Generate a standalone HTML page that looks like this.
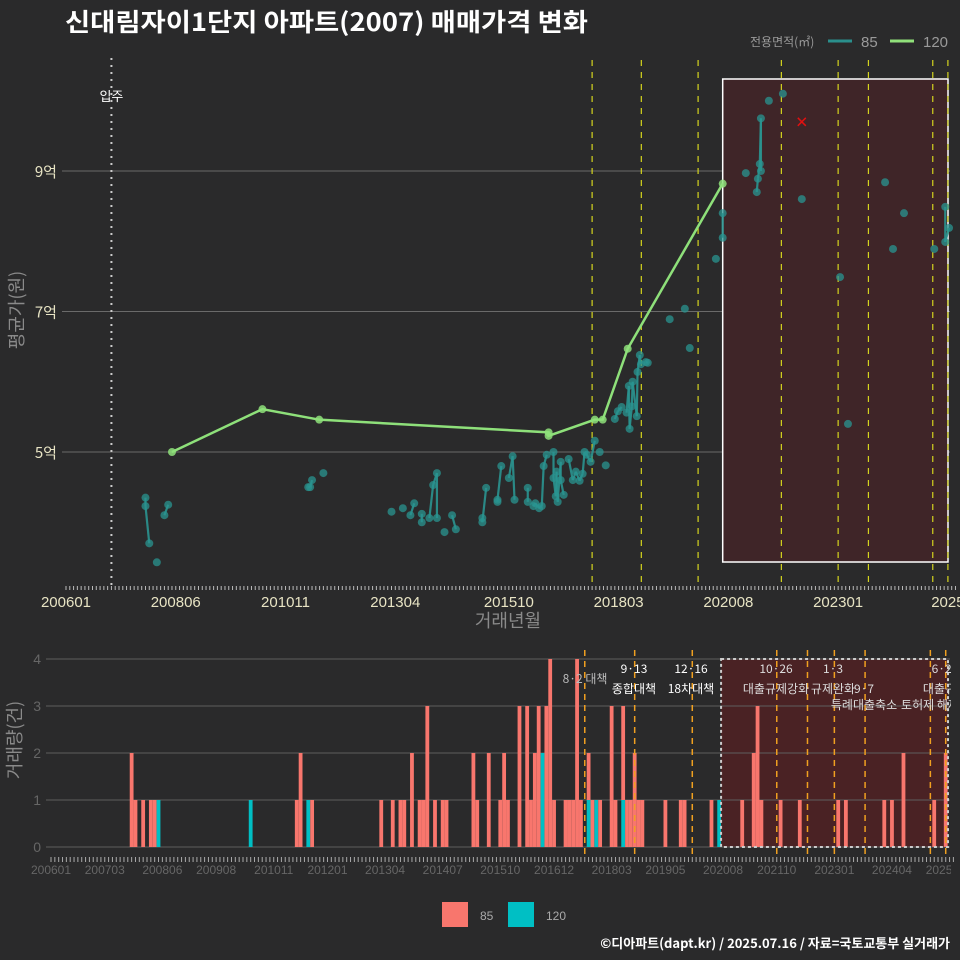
<!DOCTYPE html>
<html><head><meta charset="utf-8">
<style>
html,body{margin:0;padding:0;background:#2a2a2b;}
svg{display:block;font-family:"Liberation Sans","Noto Sans CJK KR",sans-serif;}
</style></head>
<body>
<svg id="chart" width="960" height="960" viewBox="0 0 960 960" xmlns="http://www.w3.org/2000/svg">
<rect x="0" y="0" width="960" height="960" fill="#2a2a2b"/>
<text x="65" y="31" fill="#ffffff" font-size="25" font-weight="bold" textLength="523" lengthAdjust="spacingAndGlyphs" font-family="'Noto Sans CJK KR',sans-serif">신대림자이1단지 아파트(2007) 매매가격 변화</text>
<g>
<text x="750" y="46" fill="#9a9a9a" font-size="12" font-family="'Noto Sans CJK KR',sans-serif">전용면적(㎡)</text>
<line x1="828" y1="41" x2="852" y2="41" stroke="#2a8f8c" stroke-width="3"/>
<text x="861" y="47" fill="#9a9a9a" font-size="15">85</text>
<line x1="890" y1="41" x2="914" y2="41" stroke="#90e07a" stroke-width="3"/>
<text x="923" y="47" fill="#9a9a9a" font-size="15">120</text>
</g>
<g id="topChart"></g>
<g id="bottomChart"></g>
<g>
<rect x="442" y="902" width="26" height="25" fill="#f8766d"/>
<text x="480" y="920" fill="#aaaaaa" font-size="12">85</text>
<rect x="508" y="902" width="26" height="25" fill="#00bfc4"/>
<text x="546" y="920" fill="#aaaaaa" font-size="12">120</text>
</g>
<text x="950" y="948" fill="#ffffff" font-size="13" font-weight="bold" text-anchor="end" font-family="'Noto Sans CJK KR',sans-serif">©디아파트(dapt.kr) / 2025.07.16 / 자료=국토교통부 실거래가</text>
</svg>
<script>
// ---- data (months since 2006-01, prices in 억) ----
const m85 = [21,21,22,24,26,27,64,64.5,65,68,86,89,91,92,94,94,96,97,98,98,100,102,103,110,110,111,114,114,115,117,118,118.5,122,122,123.5,124,125,125.7,126.2,127,128.8,128.8,129.4,129.6,129.9,130.7,130.7,131.5,132.8,133.9,134.7,135.7,136.5,137,137.6,138.6,139.7,141,142.6,145,145.8,146.8,148.1,148.7,148.9,149.5,149.7,150.8,151,151.6,151.9,153.2,153.7,159.5,163.5,164.8,171.7,173.5,173.5,179.6,182.5,182.8,183.3,183.6,183.6,185.7,189.4,194.4,204.5,206.6,216.4,218.5,221.4,229.4,232.3,232.3,233.3];
const p85 = [4.35,4.23,3.70,3.43,4.10,4.25,4.50,4.50,4.60,4.70,4.15,4.20,4.10,4.27,4.12,4.00,4.06,4.53,4.70,4.06,3.86,4.10,3.90,4.06,4.00,4.49,4.29,4.32,4.80,4.63,4.94,4.32,4.49,4.29,4.23,4.27,4.20,4.23,4.80,4.96,5.00,4.63,4.37,4.72,4.29,4.86,4.60,4.39,4.90,4.60,4.72,4.59,4.69,5.00,4.96,4.86,5.16,5.00,4.81,5.47,5.58,5.64,5.56,5.94,5.33,5.65,6.00,5.51,6.14,6.38,6.25,6.28,6.27,6.89,7.04,6.48,7.75,8.05,8.40,8.97,8.70,8.89,9.10,9.75,9.00,10.00,10.10,8.60,7.49,5.40,8.84,7.89,8.40,7.89,8.49,7.99,8.19];
const m120 = [28,51.9,66.9,127.5,127.5,139.7,141.8,148.4,173.5];
const p120 = [5.00,5.61,5.46,5.28,5.23,5.46,5.46,6.47,8.82];
const outlierMonth = [194.4];
const outlierPrice = [9.70];
const priceTicks = [5,7,9];
const priceTickLabels = ["5억","7억","9억"];
const xTickMonths = [0,29,58,87,117,146,175,204,233];
const xTickLabels = ["200601","200806","201011","201304","201510","201803","202008","202301","2025"];
const bxTickMonths = [0,14,29,43,58,72,87,102,117,131,146,160,175,189,204,219,233];
const bxTickLabels = ["200601","200703","200806","200908","201011","201201","201304","201407","201510","201612","201803","201905","202008","202110","202301","202404","202506"];
const barMonths = [21,22,24,26,27,28,52,64,65,67,68,86,89,91,92,94,96,97,98,100,102,103,110,111,114,117,118,119,122,124,125,126,127,128,129,130,131,134,135,136,137,138,140,141,142,143,146,147,149,150,151,152,153,154,160,164,165,172,174,180,183,184,185,190,195,205,207,217,219,222,230,233];
const cnt85 =   [2,1,1,1,1,0,0,1,2,0,1,1,1,1,1,2,1,1,3,1,1,1,2,1,2,1,2,1,3,3,1,2,3,0,3,4,1,1,1,1,4,1,1,1,0,1,3,1,2,1,1,2,1,1,1,1,1,1,0,1,2,3,1,1,1,1,1,1,1,2,1,2];
const cnt120 =  [0,0,0,0,0,1,1,0,0,1,0,0,0,0,0,0,0,0,0,0,0,0,0,0,0,0,0,0,0,0,0,0,0,2,0,0,0,0,0,0,0,0,1,0,1,0,0,0,1,0,0,0,0,0,0,0,0,0,1,0,0,0,0,0,0,0,0,0,0,0,0,0];
const volTicks = [0,1,2,3,4];
const topEventMonths = [139,152,167,189,204,212,229,233];
const botEventMonths = [139,152,167,189,197,204,212,229,233];
const moveInMonth = 12;

(function(){
const NS="http://www.w3.org/2000/svg";
function mk(parent, tag, attrs, text){const e=document.createElementNS(NS,tag);for(const k in attrs)e.setAttribute(k,attrs[k]);if(text!==undefined)e.textContent=text;parent.appendChild(e);return e;}
const tx = m => 66 + m*3.785;
const ty = v => 452 - (v-5)*70.25;
const bx = m => 51 + m*3.84;
const by = c => 847 - c*47;

const topG=document.getElementById('topChart');
priceTicks.forEach((v,i)=>{
  const g=mk(topG,'line',{x1:62,x2:950,y1:ty(v),y2:ty(v),stroke:'#6a6a6a','stroke-width':1});
  
  
  const t=mk(topG,'text',{x:57,y:ty(v)+6,fill:'#e8e4c4','font-size':15,'text-anchor':'end','font-family':"'Noto Sans CJK KR',sans-serif"},priceTickLabels[i]);
  
  
});
const sr=mk(topG,'rect',{x:tx(173.5),y:79,width:948-tx(173.5),height:483,fill:'#3f2528',stroke:'#ffffff','stroke-width':1.5});


const mv=mk(topG,'line',{x1:tx(moveInMonth),x2:tx(moveInMonth),y1:58,y2:586,stroke:'#cccccc','stroke-width':2,'stroke-dasharray':'2,5'});


const mvt=mk(topG,'text',{x:tx(moveInMonth),y:101,fill:'#ffffff','font-size':13,'text-anchor':'middle','font-family':"'Noto Sans CJK KR',sans-serif"},'입주');


topEventMonths.forEach(m=>{
  const l=mk(topG,'line',{x1:tx(m),x2:tx(m),y1:60,y2:586,stroke:'#d4d41e','stroke-width':1.2,'stroke-dasharray':'6,6'});
  
  
});
for(let i=1;i<m85.length;i++){
  if(m85[i]-m85[i-1]<=1.2){
    const l=mk(topG,'line',{x1:tx(m85[i-1]),y1:ty(p85[i-1]),x2:tx(m85[i]),y2:ty(p85[i]),stroke:'#2a9490','stroke-width':2.2,opacity:0.9});
    
    
  }
}
m85.forEach((m,i)=>{
  const c=mk(topG,'circle',{cx:tx(m),cy:ty(p85[i]),r:4,fill:'#2a9490',opacity:0.75});
  
  
});
let d='';
m120.forEach((m,i)=>{d+=(i?'L':'M')+tx(m)+','+ty(p120[i]);});
const pl=mk(topG,'path',{d:d,fill:'none',stroke:'#8ee07a','stroke-width':2.5});


m120.forEach((m,i)=>{
  const c=mk(topG,'circle',{cx:tx(m),cy:ty(p120[i]),r:4,fill:'#8ee07a',opacity:0.85});
  
  
});
outlierMonth.forEach((m,i)=>{
  const x=tx(m),y=ty(outlierPrice[i]);
  const o=mk(topG,'path',{d:`M${x-4},${y-4}L${x+4},${y+4}M${x-4},${y+4}L${x+4},${y-4}`,stroke:'#e01010','stroke-width':1.5});
  
  
});
for(let m=0;m<=235;m++){
  const t=mk(topG,'line',{x1:tx(m),x2:tx(m),y1:586,y2:590,stroke:'#bbbbbb','stroke-width':1});
  
  
}
xTickMonths.forEach((m,i)=>{
  const t=mk(topG,'text',{x:tx(m),y:607,fill:'#e8e4c4','font-size':15,'text-anchor':'middle'},xTickLabels[i]);
  
  
});
const xt=mk(topG,'text',{x:508,y:627,fill:'#8a8a8a','font-size':18,'text-anchor':'middle','font-family':"'Noto Sans CJK KR',sans-serif"},'거래년월');


const yt=mk(topG,'text',{x:0,y:0,fill:'#8a8a8a','font-size':18,'text-anchor':'middle',transform:'translate(23,310) rotate(-90)','font-family':"'Noto Sans CJK KR',sans-serif"},'평균가(원)');



const bot=document.getElementById('bottomChart');
const br=mk(bot,'rect',{x:bx(174.5),y:659,width:948-bx(174.5),height:188,fill:'#4a2224'});


volTicks.forEach(v=>{
  const g=mk(bot,'line',{x1:46,x2:950,y1:by(v),y2:by(v),stroke:'#5e5e5e','stroke-width':1});
  
  
  const t=mk(bot,'text',{x:41,y:by(v)+5,fill:'#666666','font-size':14,'text-anchor':'end'},String(v));
  
  
});
barMonths.forEach((m,i)=>{
  const x=bx(m)-1.9;
  if(cnt120[i]>0){
    const r=mk(bot,'rect',{x:x,y:by(cnt120[i]),width:3.8,height:cnt120[i]*47,fill:'#00bfc4'});
    
    
  }
  if(cnt85[i]>0){
    const r=mk(bot,'rect',{x:x,y:by(cnt120[i]+cnt85[i]),width:3.8,height:cnt85[i]*47,fill:'#f8766d'});
    
    
  }
});
const bb=mk(bot,'rect',{x:bx(174.5),y:659,width:948-bx(174.5),height:188,fill:'none',stroke:'#cccccc','stroke-width':2,'stroke-dasharray':'3,3'});


botEventMonths.forEach(m=>{
  const l=mk(bot,'line',{x1:bx(m),x2:bx(m),y1:650,y2:855,stroke:'#f0a020','stroke-width':1.5,'stroke-dasharray':'6,5'});
  
  
});
const ann=[[585,683,'8·2 대책','#bbbbbb'],[634,673,'9·13','#ffffff'],[634,693,'종합대책','#ffffff'],[691,673,'12·16','#ffffff'],[691,693,'18차대책','#ffffff'],[776,673,'10·26','#dddddd'],[776,693,'대출규제강화','#dddddd'],[833,673,'1·3','#dddddd'],[833,693,'규제완화','#dddddd'],[864,693,'9·7','#dddddd'],[864,709,'특례대출축소','#dddddd'],[930,709,'토허제 해제','#dddddd'],[945,673,'6·27','#dddddd'],[945,693,'대출규제','#dddddd']];
const clip=mk(bot,'clipPath',{id:'bclip'});
mk(clip,'rect',{x:0,y:640,width:951,height:240});
const ag=mk(bot,'g',{'clip-path':'url(#bclip)'});


ann.forEach(a=>{
  const t=mk(ag,'text',{x:a[0],y:a[1],fill:a[3],'font-size':12,'text-anchor':'middle','font-family':"'Noto Sans CJK KR',sans-serif"},a[2]);
  
  
});
for(let m=0;m<=235;m++){
  const t=mk(bot,'line',{x1:bx(m),x2:bx(m),y1:857,y2:862,stroke:'#aaaaaa','stroke-width':1});
  
  
}
bxTickMonths.forEach((m,i)=>{
  const t=mk(ag,'text',{x:bx(m),y:874,fill:'#666666','font-size':12,'text-anchor':'middle'},bxTickLabels[i]);
  
  
});
const vt=mk(bot,'text',{x:0,y:0,fill:'#8a8a8a','font-size':18,'text-anchor':'middle',transform:'translate(21,740) rotate(-90)','font-family':"'Noto Sans CJK KR',sans-serif"},'거래량(건)');


})();
</script>
</body></html>
